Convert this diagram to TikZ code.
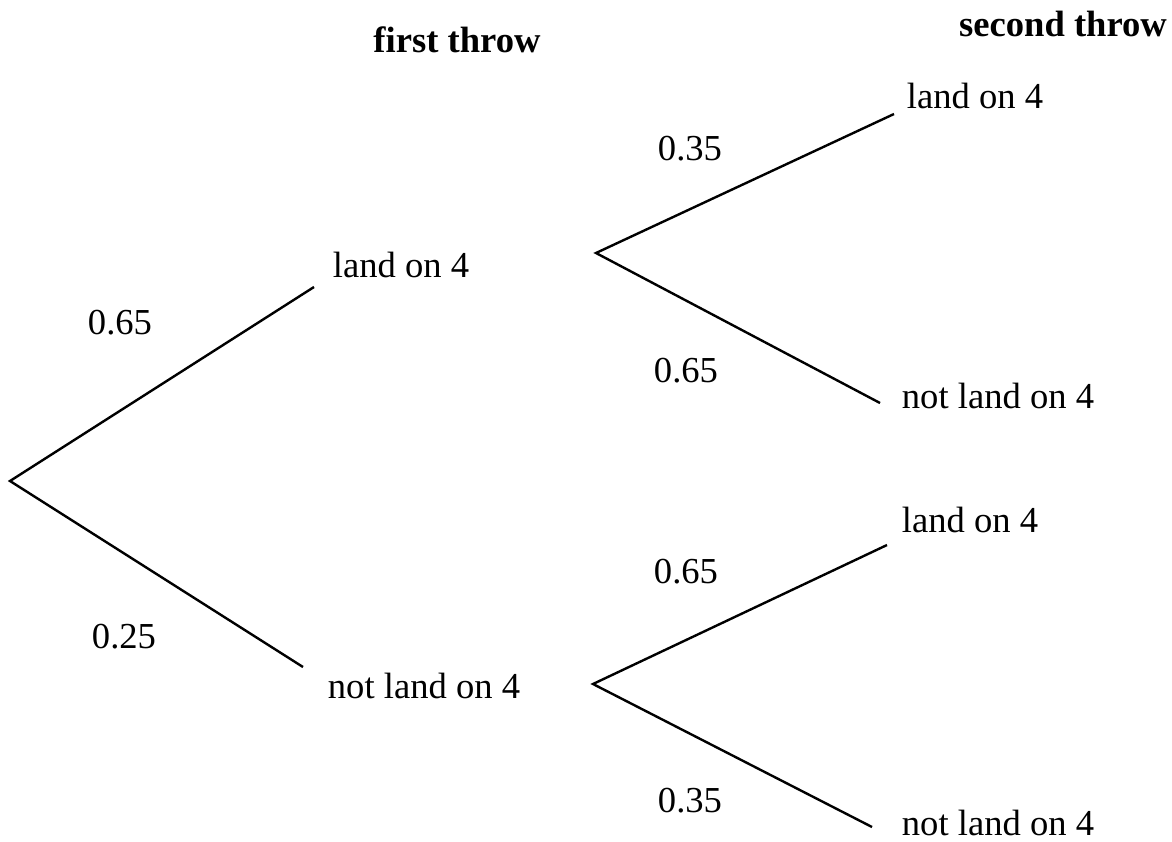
\documentclass[tikz,border=0pt]{standalone}
\usepackage{fontspec}
\setmainfont{Liberation Serif}
\begin{document}
\begin{tikzpicture}[x=1pt,y=-1pt,
  branch/.style={line width=2.4pt},
  lbl/.style={font=\fontsize{36.6}{43}\selectfont, inner sep=0pt, anchor=base},
  hdr/.style={font=\fontsize{36.6}{43}\selectfont\bfseries, inner sep=0pt, anchor=base}]
\useasboundingbox (0,0) rectangle (1172,841);
% branch points and line ends
\coordinate (root) at (10,481);
\coordinate (u) at (596,253);
\coordinate (d) at (593,684);
\coordinate (uend) at (314,287);
\coordinate (dend) at (303,667);
\coordinate (uuend) at (894,114);
\coordinate (udend) at (880,403);
\coordinate (duend) at (887,545);
\coordinate (ddend) at (872,827);
\draw[branch] (uend) -- (root) -- (dend);
\draw[branch] (uuend) -- (u) -- (udend);
\draw[branch] (duend) -- (d) -- (ddend);
% headers
\node[hdr] (h1) at (457,52) {first throw};
\node[hdr] (h2) at (1063,36) {second throw};
% outcome labels
\node[lbl] (l1) at (401,277) {land on 4};
\node[lbl] (l2) at (424,698) {not land on 4};
\node[lbl] (l3) at (975,108) {land on 4};
\node[lbl] (l4) at (998,408) {not land on 4};
\node[lbl] (l5) at (970,532) {land on 4};
\node[lbl, text depth=0pt] (l6) at (998,835) {not land on 4};
% probabilities
\node[lbl] (p1) at (120,334) {0.65};
\node[lbl] (p2) at (124,648) {0.25};
\node[lbl] (p3) at (690,160) {0.35};
\node[lbl] (p4) at (686,382) {0.65};
\node[lbl] (p5) at (686,583) {0.65};
\node[lbl] (p6) at (690,812) {0.35};
\end{tikzpicture}
\end{document}
